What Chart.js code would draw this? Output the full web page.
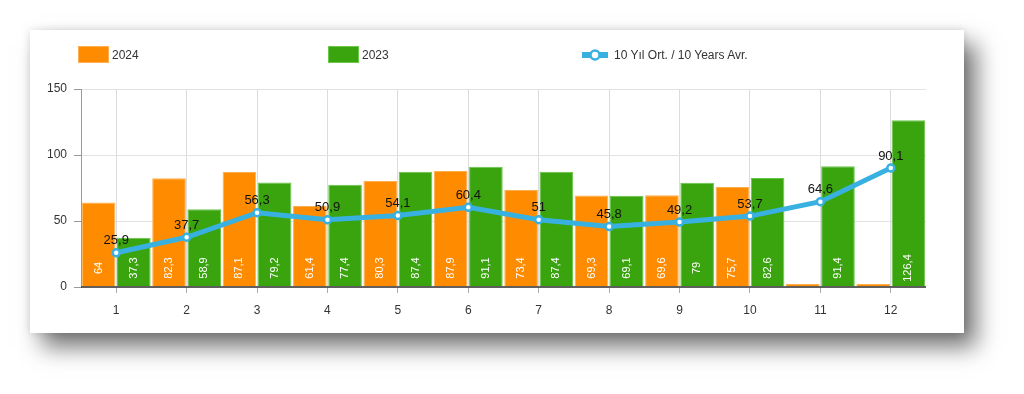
<!DOCTYPE html>
<html>
<head>
<meta charset="utf-8">
<script src="https://cdn.jsdelivr.net/npm/chart.js@4.4.1/dist/chart.umd.min.js"></script>
<style>
html,body{margin:0;padding:0;background:#fff;width:1024px;height:394px;overflow:hidden;font-family:"Liberation Sans",Arial,sans-serif;}
#card{position:absolute;left:30px;top:30px;width:934px;height:303px;background:#fff;
box-shadow:0 0 8px rgba(0,0,0,0.12),12px 14px 22px rgba(0,0,0,0.55);}
#card canvas{position:absolute;left:0;top:0;}
.lg{position:absolute;top:46px;height:18px;font-size:12px;color:#333;line-height:18px;white-space:nowrap;}
.lg .box{position:absolute;left:0;top:0;width:31px;height:17px;}
.lg span.t{position:absolute;top:0px;}
</style>
</head>
<body>
<div id="card"><canvas id="c" width="934" height="303"></canvas></div>
<div class="lg" style="left:78px"><div class="box" style="background:#ff8c00;border:1px solid #ffb052;box-sizing:border-box"></div><span class="t" style="left:34px">2024</span></div>
<div class="lg" style="left:328px"><div class="box" style="background:#3aa40f;border:1px solid #6cc84a;box-sizing:border-box"></div><span class="t" style="left:34px">2023</span></div>
<div class="lg" style="left:582px">
<svg width="27" height="18" style="position:absolute;left:0;top:0"><line x1="0" y1="9" x2="26" y2="9" stroke="#38b1e1" stroke-width="6"/><circle cx="13" cy="9" r="4.5" fill="#fff" stroke="#38b1e1" stroke-width="2.5"/></svg>
<span class="t" style="left:32px">10 Yıl Ort. / 10 Years Avr.</span></div>
<script>
const months = ['1','2','3','4','5','6','7','8','9','10','11','12'];
const values2024 = [64, 82.3, 87.1, 61.4, 80.3, 87.9, 73.4, 69.3, 69.6, 75.7, 0, 0];
const values2023 = [37.3, 58.9, 79.2, 77.4, 87.4, 91.1, 87.4, 69.1, 79, 82.6, 91.4, 126.4];
const avg10 = [25.9, 37.7, 56.3, 50.9, 54.1, 60.4, 51, 45.8, 49.2, 53.7, 64.6, 90.1];
const yTicks = [0, 50, 100, 150];

const fmt = v => String(v).replace('.', ',');

const labelPlugin = {
  id: 'labels',
  afterDatasetsDraw(chart) {
    const ctx = chart.ctx;
    const ca = chart.chartArea;
    const yz = chart.scales.y.getPixelForValue(0);
    // baseline
    ctx.save();
    ctx.strokeStyle = '#333';
    ctx.lineWidth = 1.5;
    ctx.beginPath();
    ctx.moveTo(ca.left, yz);
    ctx.lineTo(ca.right, yz);
    ctx.stroke();
    ctx.restore();
    // bar labels
    [0, 1].forEach(di => {
      const meta = chart.getDatasetMeta(di);
      const data = chart.data.datasets[di].data;
      meta.data.forEach((el, i) => {
        if (!data[i]) return;
        ctx.save();
        ctx.translate(el.x, yz - 19);
        ctx.rotate(-Math.PI / 2);
        ctx.fillStyle = '#fff';
        ctx.font = '11px "Liberation Sans", Arial, sans-serif';
        ctx.textAlign = 'center';
        ctx.textBaseline = 'middle';
        ctx.fillText(fmt(data[i]), 0, 0);
        ctx.restore();
      });
    });
  },
  afterDraw(chart) {
    const ctx = chart.ctx;
    const meta = chart.getDatasetMeta(2);
    const data = chart.data.datasets[2].data;
    ctx.save();
    ctx.fillStyle = '#111';
    ctx.font = '13px "Liberation Sans", Arial, sans-serif';
    ctx.textAlign = 'center';
    ctx.textBaseline = 'middle';
    meta.data.forEach((el, i) => {
      ctx.fillText(fmt(data[i]), el.x, el.y - 12);
    });
    ctx.restore();
  }
};

new Chart(document.getElementById('c'), {
  type: 'bar',
  data: {
    labels: months,
    datasets: [
      {label: '2024', data: values2024, backgroundColor: '#ff8c00', borderColor: '#ffae4d', borderWidth: 1,
       barPercentage: 0.955, categoryPercentage: 1, minBarLength: 3, order: 2},
      {label: '2023', data: values2023, backgroundColor: '#3aa40f', borderColor: '#66c445', borderWidth: 1,
       barPercentage: 0.955, categoryPercentage: 1, order: 2},
      {label: '10 Yıl Ort. / 10 Years Avr.', type: 'line', data: avg10, borderColor: '#38b1e1', borderWidth: 5,
       pointRadius: 3.5, pointBorderWidth: 2.5, pointBackgroundColor: '#fff', pointBorderColor: '#38b1e1',
       tension: 0, fill: false, order: 1}
    ]
  },
  options: {
    responsive: false,
    animation: false,
    events: [],
    layout: {padding: {top: 59, right: 38, left: 0, bottom: 0}},
    plugins: {legend: {display: false}, tooltip: {enabled: false}},
    scales: {
      x: {
        offset: true,
        grid: {offset: false, color: '#dcdcdc', tickLength: 6, tickColor: '#aaa'},
        border: {display: false},
        ticks: {color: '#333', padding: 10, font: {size: 12, family: '"Liberation Sans", Arial, sans-serif'}},
        afterFit(s) { s.height = 46; }
      },
      y: {
        min: 0, max: 150,
        afterBuildTicks(s) { s.ticks = yTicks.map(v => ({value: v})); },
        grid: {color: '#e2e2e2', tickLength: 7, tickColor: '#999'},
        border: {display: true, color: '#9a9a9a', width: 1},
        ticks: {color: '#333', padding: 7, font: {size: 12, family: '"Liberation Sans", Arial, sans-serif'}},
        afterFit(s) { s.width = 51; }
      }
    }
  },
  plugins: [labelPlugin]
});
</script>
</body>
</html>
